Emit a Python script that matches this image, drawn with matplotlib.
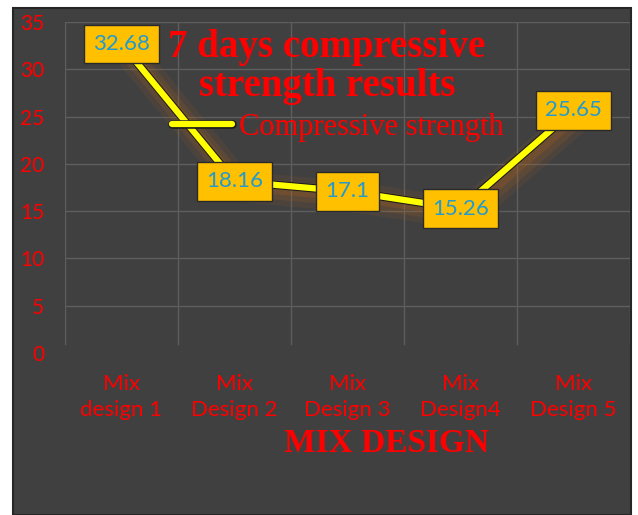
import matplotlib
matplotlib.use('Agg')
import matplotlib.pyplot as plt
import matplotlib.patheffects as pe
from matplotlib.patches import Rectangle
from matplotlib.lines import Line2D

categories = ['Mix\ndesign 1', 'Mix\nDesign 2', 'Mix\nDesign 3', 'Mix\nDesign4', 'Mix\nDesign 5']
strength = [32.68, 18.16, 17.1, 15.26, 25.65]
yticks = [0, 5, 10, 15, 20, 25, 30, 35]

bg = '#404040'
red = '#ff0000'
W, H = 638, 515

fig = plt.figure(figsize=(W / 100, H / 100), dpi=100)
fig.patch.set_facecolor('white')

# dark chart panel with a thin border
fig.patches.append(Rectangle((13 / W, 0), 618 / W, 1 - 8 / H, transform=fig.transFigure,
                             facecolor=bg, edgecolor='#262626', linewidth=1.5, zorder=-10))

ax = fig.add_axes([65 / W, 1 - 353 / H, 565 / W, 331 / H])
ax.set_facecolor('none')
for s in ax.spines.values():
    s.set_visible(False)

x = list(range(len(categories)))
ax.set_xlim(-0.5, len(categories) - 0.5)
ax.set_ylim(0, 35)

# gridlines
for yv in yticks[1:]:
    ax.axhline(yv, color='#5e5e5e', lw=1, zorder=1)
for xv in [i - 0.5 for i in range(len(categories) + 1)]:
    ax.plot([xv, xv], [1.0, 35], color='#5e5e5e', lw=1, zorder=1)

ax.set_yticks(yticks)
ax.set_yticklabels([str(v) for v in yticks], family='Lato', fontsize=15, color=red)
ax.set_xticks(x)
ax.set_xticklabels(categories, family='Lato', fontsize=16, color=red, linespacing=1.4)
ax.tick_params(axis='y', length=0, pad=15)
ax.tick_params(axis='x', length=0, pad=15)

glow = '#b8651c'
line, = ax.plot(x, strength, color='#ffff00', lw=4.5, zorder=3, solid_capstyle='butt',
                path_effects=[
                    pe.Stroke(offset=(4, -4), linewidth=22, foreground=glow, alpha=0.10),
                    pe.Stroke(offset=(4, -4), linewidth=14, foreground=glow, alpha=0.15),
                    pe.Stroke(offset=(3, -3), linewidth=8, foreground=glow, alpha=0.2),
                    pe.Stroke(linewidth=6, foreground='#1a1a1a'),
                    pe.Normal()])

for xi, v in zip(x, strength):
    ax.text(xi, v, f'{v:g}', ha='center', va='center', family='Lato', fontsize=16,
            color='#229ad0', zorder=5,
            bbox=dict(boxstyle='square,pad=0.42', facecolor='#ffc000', edgecolor='#2a2a2a', lw=1))

# title
fig.text(327 / W, 1 - 29 / H, '7 days compressive\nstrength results', ha='center', va='top',
         family='Liberation Serif', weight='bold', fontsize=28, color=red, linespacing=1.08)

# legend
handle = Line2D([], [], color='#ffff00', lw=4.5, solid_capstyle='round',
                path_effects=[pe.Stroke(linewidth=6.2, foreground='#1a1a1a'), pe.Normal()])
leg = fig.legend([handle], ['Compressive strength'], loc='center left',
                 bbox_to_anchor=(172 / W, 1 - 127 / H), bbox_transform=fig.transFigure,
                 frameon=False, borderpad=0, borderaxespad=0, handlelength=1.95, handletextpad=0.25,
                 prop={'family': 'Liberation Serif', 'size': 22})
for t in leg.get_texts():
    t.set_color(red)

# x axis title
fig.text(387 / W, 1 - 443 / H, 'MIX DESIGN', ha='center', va='center',
         family='Liberation Serif', weight='bold', fontsize=24, color=red)

fig.savefig('out.png', dpi=100)
